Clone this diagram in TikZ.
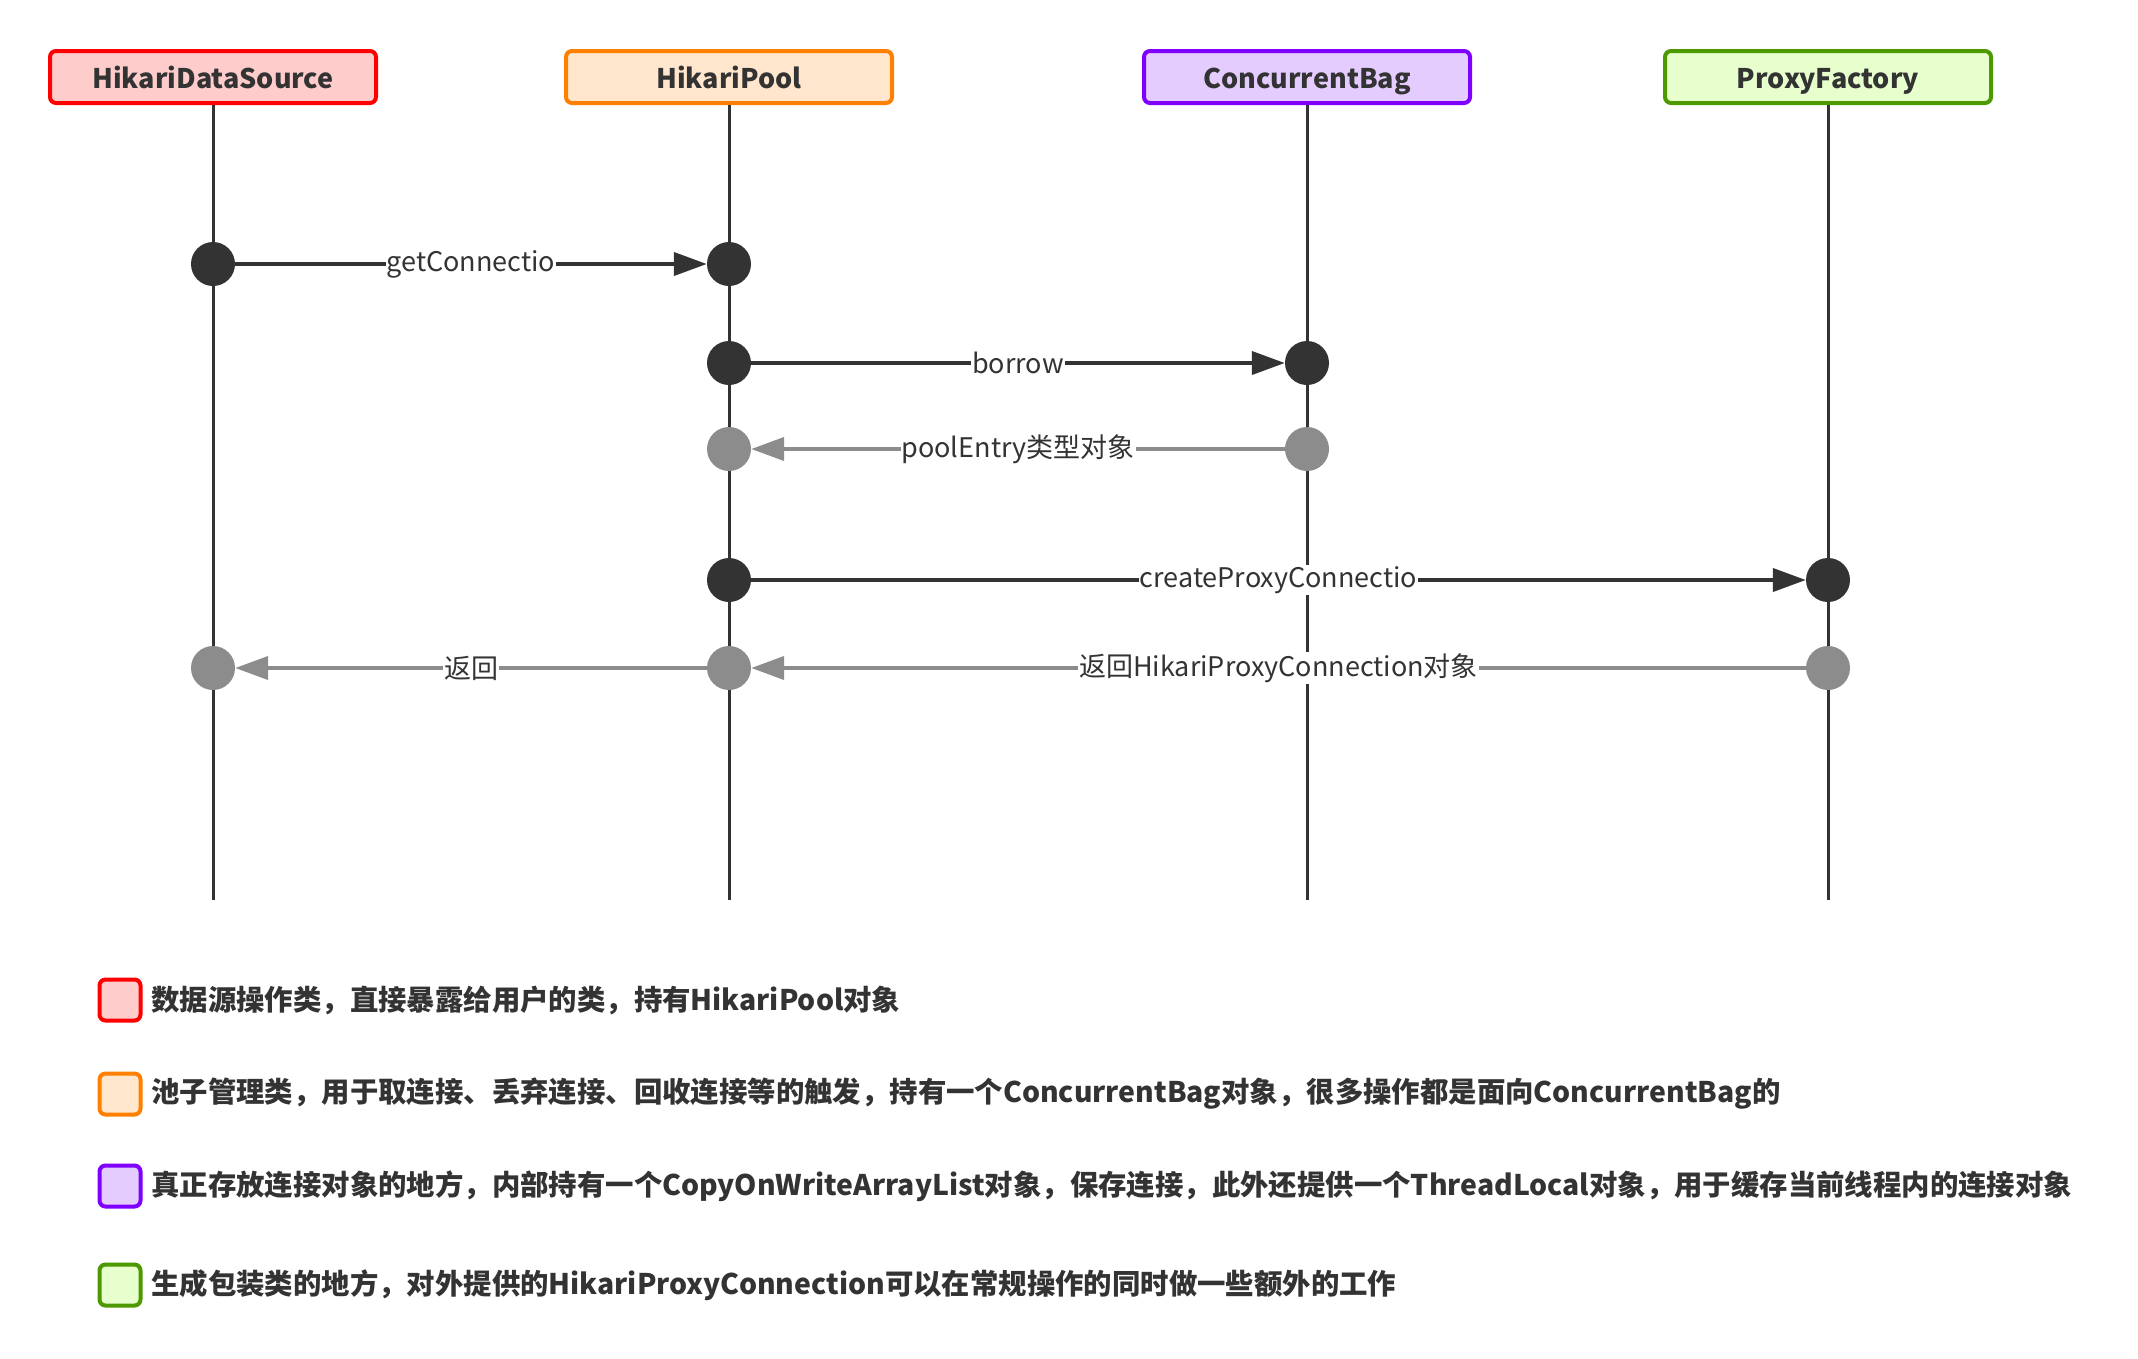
\documentclass[tikz,border=0pt]{standalone}
\usepackage{fontspec}
\setmainfont{Noto Sans CJK SC}
\usetikzlibrary{arrows.meta}
\definecolor{ink}{HTML}{333333}
\definecolor{dim}{HTML}{8C8C8C}
\definecolor{redline}{HTML}{FF0000}
\definecolor{redfill}{HTML}{FFCCCC}
\definecolor{orangeline}{HTML}{FF8000}
\definecolor{orangefill}{HTML}{FFE6CC}
\definecolor{purpleline}{HTML}{7F00FF}
\definecolor{purplefill}{HTML}{E5CCFF}
\definecolor{greenline}{HTML}{4D9900}
\definecolor{greenfill}{HTML}{E6FFCC}
\begin{document}
\begin{tikzpicture}[x=1pt,y=-1pt,
    head/.style={rectangle, rounded corners=6pt, line width=4pt,
      minimum width=326pt, minimum height=52pt, inner sep=0pt, text=ink,
      text height=26pt, text depth=4pt,
      font=\bfseries\fontsize{27}{30}\selectfont},
    life/.style={line width=3pt, draw=ink},
    dot/.style={circle, fill=ink, minimum size=44pt, inner sep=0pt},
    rdot/.style={dot, fill=dim},
    msg/.style={line width=4pt, draw=ink, -{Triangle[length=33pt,width=23pt]}},
    ret/.style={msg, draw=dim},
    lbl/.style={fill=white, inner sep=1pt, text=ink,
      font=\fontsize{27}{30}\selectfont},
    key/.style={rectangle, rounded corners=6pt, line width=4pt,
      minimum size=41pt, inner sep=0pt},
    keytext/.style={anchor=west, inner sep=0pt, text=ink,
      font=\bfseries\fontsize{28.4}{32}\selectfont}]
  \useasboundingbox[fill=white] (0,0) rectangle (2138,1358);
  % lifelines
  \draw
    (213,77) node[head, draw=redline, fill=redfill] (hds){HikariDataSource}
    (729,77) node[head, draw=orangeline, fill=orangefill] (pool){HikariPool}
    (1307,77) node[head, draw=purpleline, fill=purplefill] (bag){ConcurrentBag}
    (1828,77) node[head, draw=greenline, fill=greenfill] (proxy){ProxyFactory};
  \coordinate (hdsend) at (213,900);
  \coordinate (poolend) at (729,900);
  \coordinate (bagend) at (1307,900);
  \coordinate (proxyend) at (1828,900);
  \begin{scope}[life]
    \draw (hds) to (hdsend);
    \draw (pool) to (poolend);
    \draw (bag) to (bagend);
    \draw (proxy) to (proxyend);
  \end{scope}
  % activation points
  \draw
    (213,264) node[dot] (hds1){}
    (729,264) node[dot] (pool1){}
    (729,363) node[dot] (pool2){}
    (1307,363) node[dot] (bag1){}
    (729,449) node[rdot] (pool3){}
    (1307,449) node[rdot] (bag2){}
    (729,580) node[dot] (pool4){}
    (1828,580) node[dot] (proxy1){}
    (213,668) node[rdot] (hds2){}
    (729,668) node[rdot] (pool5){}
    (1828,668) node[rdot] (proxy2){};
  % messages
  \draw[msg] (hds1) -- node[lbl]{getConnectio} (pool1);
  \draw[msg] (pool2) -- node[lbl]{borrow} (bag1);
  \draw[ret] (bag2) -- node[lbl]{poolEntry类型对象} (pool3);
  \draw[msg] (pool4) -- node[lbl]{createProxyConnectio} (proxy1);
  \draw[ret] (proxy2) -- node[lbl]{返回HikariProxyConnection对象} (pool5);
  \draw[ret] (pool5) -- node[lbl]{返回} (hds2);
  % legend
  \node[key, draw=redline, fill=redfill] (k1) at (120,1000) {};
  \node[key, draw=orangeline, fill=orangefill] (k2) at (120,1094) {};
  \node[key, draw=purpleline, fill=purplefill] (k3) at (120,1186) {};
  \node[key, draw=greenline, fill=greenfill] (k4) at (120,1285) {};
  \node[keytext] (t1) at (151,1000) {数据源操作类，直接暴露给用户的类，持有HikariPool对象};
  \node[keytext] (t2) at (151,1094) {池子管理类，用于取连接、丢弃连接、回收连接等的触发，持有一个ConcurrentBag对象，很多操作都是面向ConcurrentBag的};
  \node[keytext] (t3) at (151,1186) {真正存放连接对象的地方，内部持有一个CopyOnWriteArrayList对象，保存连接，此外还提供一个ThreadLocal对象，用于缓存当前线程内的连接对象};
  \node[keytext] (t4) at (151,1285) {生成包装类的地方，对外提供的HikariProxyConnection可以在常规操作的同时做一些额外的工作};
\end{tikzpicture}
\end{document}
